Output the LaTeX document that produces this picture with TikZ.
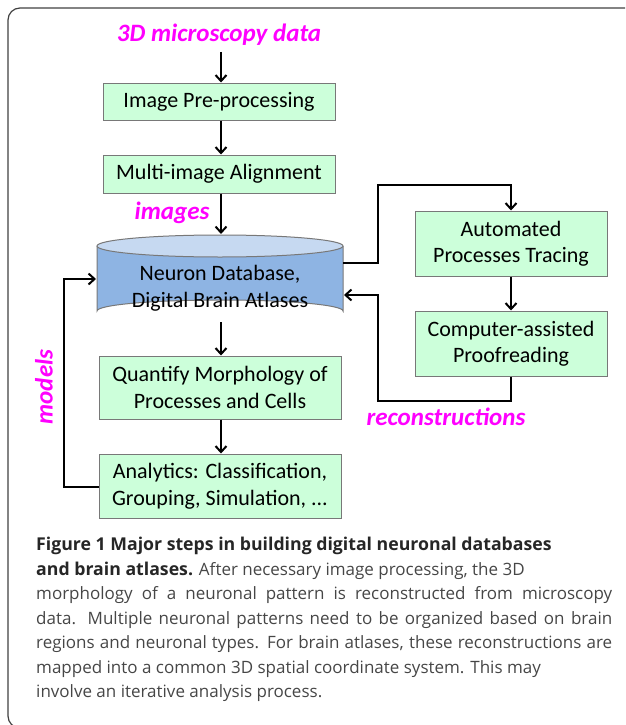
\documentclass[tikz,border=0pt]{standalone}
\usepackage{fontspec}
\setmainfont{Carlito}
\newfontfamily\capfont{Open Sans}
\usetikzlibrary{arrows.meta,shapes.geometric}
\definecolor{boxgreen}{RGB}{204,255,218}
\definecolor{boxedge}{RGB}{120,120,120}
\definecolor{cylbody}{RGB}{142,180,227}
\definecolor{cyltop}{RGB}{198,217,241}
\definecolor{mag}{RGB}{255,0,255}
\definecolor{captext}{RGB}{70,70,70}
\newcommand{\fullline}[1]{\makebox[576pt][s]{#1}}
\tikzset{
  stepbox/.style={draw=boxedge,line width=1pt,fill=boxgreen,minimum height=37pt,
    inner sep=0pt,align=center,font=\fontsize{22}{26.5}\selectfont},
  flow/.style={line width=2pt,-{Straight Barb[length=6pt,width=11pt,line width=2pt]}},
  maglabel/.style={text=mag,font=\fontsize{25}{28}\selectfont\bfseries\itshape,inner sep=0pt},
}
\begin{document}
\begin{tikzpicture}[x=1pt,y=-1pt]
\useasboundingbox (0,0) rectangle (625,725);
% frame
\begin{scope}
\clip (0,0) rectangle (625,725);
\draw[line width=1.2pt,draw=black!75,rounded corners=12pt] (8,8) rectangle (660,728);
\end{scope}

\node[maglabel] (src) at (219,35) {3D microscopy data};
\node[stepbox,minimum width=232pt] (pre) at (219,101.5) {Image Pre-processing};
\node[stepbox,minimum width=232pt,minimum height=38pt] (align) at (219,174) {Multi-image Alignment};
\node[maglabel] (imgl) at (172,213) {images};

% cylinder
\fill[cylbody] (97,246) -- (97,311) arc[start angle=180,end angle=360,x radius=123,y radius=11] -- (343,246) -- cycle;
\draw[boxedge,line width=1pt] (97,246) -- (97,311) arc[start angle=180,end angle=360,x radius=123,y radius=11] -- (343,246);
\draw[boxedge,line width=1pt,fill=cyltop] (220,246) ellipse[x radius=123,y radius=11];
\node[inner sep=0pt,align=center,font=\fontsize{22}{27}\selectfont] (db) at (220,288) {Neuron Database,\\Digital Brain Atlases};
\coordinate (dbbot) at (220,322);

\node[stepbox,minimum width=192pt,minimum height=65pt] (trace) at (511,243.5) {Automated\\Processes Tracing};
\node[stepbox,minimum width=192pt,minimum height=65pt] (proof) at (511,343.5) {Computer-assisted\\Proofreading};
\node[maglabel] (recl) at (446,417) {reconstructions};

\node[stepbox,minimum width=242pt,minimum height=63pt] (quant) at (220,387.5) {Quantify Morphology of\\Processes and Cells};
\node[stepbox,minimum width=242pt,minimum height=64pt] (anal) at (220,486) {Analytics: Classification,\\Grouping, Simulation, ...};
\node[maglabel,rotate=90] (modl) at (44,387) {models};

% connectors
\coordinate (c1) at (378,263);
\coordinate (c2) at (378,185);
\coordinate (c3) at (511,185);
\coordinate (r1) at (511,401);
\coordinate (r2) at (378,401);
\coordinate (r3) at (378,295);
\coordinate (m1) at (64,487);
\coordinate (m2) at (64,279);

\draw[flow] (221,52) -- (pre.north -| 221,0);
\draw[flow] (pre.south -| 221,0) -- (align.north -| 221,0);
\draw[flow] (align.south -| 221,0) -- (221,234);
\draw[flow] (343,263) -- (c1) -- (c2) -- (c3) -- (trace.north);
\draw[flow] (trace.south) -- (proof.north);
\draw[flow] (proof.south) -- (r1) -- (r2) -- (r3) -- (344,295);
\draw[flow] (dbbot -| 221,0) -- (quant.north -| 221,0);
\draw[flow] (quant.south -| 221,0) -- (anal.north -| 221,0);
\draw[flow] (anal.west |- m1) -- (m1) -- (m2) -- (96,279);

% caption
\node[anchor=north west,inner sep=0pt,align=left,text=captext,
  font=\capfont\fontsize{17}{24.5}\selectfont] (cap) at (36,537)
{{\bfseries\color{black!85}\fontsize{17.7}{24.5}\selectfont Figure 1 Major steps in building digital neuronal databases}\\
{\bfseries\color{black!85}\fontsize{17.7}{24.5}\selectfont and brain atlases.} After necessary image processing, the 3D\\
\fullline{morphology of a neuronal pattern is reconstructed from microscopy}\\
\fullline{data. Multiple neuronal patterns need to be organized based on brain}\\
\fullline{regions and neuronal types. For brain atlases, these reconstructions are}\\
mapped into a common 3D spatial coordinate system. This may\\
involve an iterative analysis process.};
\end{tikzpicture}
\end{document}
